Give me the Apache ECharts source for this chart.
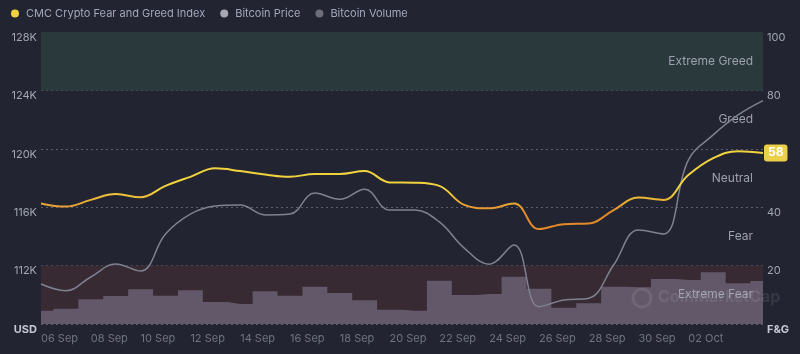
<!DOCTYPE html>
<html lang="en">

<head>
    <meta charset="UTF-8">
    <title>CMC Fear and Greed</title>
    <script src="https://cdn.jsdelivr.net/npm/echarts/dist/echarts.min.js"></script>
    <style>
        html, body {
            margin: 0;
            height: 100%;
            background: #222531;
        }

        #chart {
            width: 800px;
            height: 354px;
        }
    </style>
</head>

<body>
    <div id="chart"></div>
    <script>
        // daily points, 06 Sep -> 05 Oct
        var days = ['06 Sep', '07 Sep', '08 Sep', '09 Sep', '10 Sep', '11 Sep', '12 Sep', '13 Sep', '14 Sep', '15 Sep',
            '16 Sep', '17 Sep', '18 Sep', '19 Sep', '20 Sep', '21 Sep', '22 Sep', '23 Sep', '24 Sep', '25 Sep',
            '26 Sep', '27 Sep', '28 Sep', '29 Sep', '30 Sep', '01 Oct', '02 Oct', '03 Oct', '04 Oct', '05 Oct'];
        var fearGreed = [41.3, 40.2, 42.5, 44.5, 43.4, 47.3, 50.4, 53.3, 52.4, 51.2,
            50.4, 51.4, 51.4, 52.4, 48.5, 48.4, 47.3, 40.8, 39.6, 41.3,
            32.5, 34.2, 34.4, 39.0, 43.3, 42.5, 51.0, 56.8, 59.2, 58.6];
        var btcPrice = [110740, 110280, 111220, 112110, 111630, 114160, 115530, 116080, 116150, 115470,
            115530, 116970, 116540, 117230, 115800, 115800, 114990, 113200, 112100, 113410,
            109190, 109640, 109760, 112040, 114440, 114160, 119230, 120950, 122320, 123300];
        // volume in billions USD
        var btcVolume = [18.2, 21.0, 33.8, 38.4, 47.5, 38.8, 46.2, 30.1, 27.4, 44.8,
            38.8, 51.1, 42.5, 32.5, 19.6, 18.2, 59.3, 39.7, 41.1, 64.8,
            48.4, 22.3, 28.4, 51.1, 50.3, 61.6, 60.3, 70.8, 55.8, 58.9];
        var bands = [
            { name: 'Extreme Greed', from: 80, to: 100, color: '#2a393c' },
            { name: 'Greed', from: 60, to: 80, color: 'transparent' },
            { name: 'Neutral', from: 40, to: 60, color: 'transparent' },
            { name: 'Fear', from: 20, to: 40, color: 'transparent' },
            { name: 'Extreme Fear', from: 0, to: 20, color: '#382a33' }
        ];

        var font = 'Inter, "Noto Sans", sans-serif';
        var chart = echarts.init(document.getElementById('chart'));

        var option = {
            backgroundColor: '#222531',
            textStyle: { fontFamily: font },
            animation: false,
            legend: {
                left: 6,
                top: 3,
                icon: 'circle',
                itemWidth: 8,
                itemHeight: 8,
                itemGap: 15,
                textStyle: { color: '#a1a7bb', fontSize: 11, fontFamily: font, padding: [0, 0, 0, 2] },
                data: [
                    { name: 'CMC Crypto Fear and Greed Index', itemStyle: { color: '#f0d23f' } },
                    { name: 'Bitcoin Price', itemStyle: { color: '#a6a8b6' } },
                    { name: 'Bitcoin Volume', itemStyle: { color: '#6b6d7a' } }
                ]
            },
            grid: { left: 41, right: 37, top: 32, bottom: 30 },
            visualMap: {
                show: false,
                type: 'continuous',
                seriesIndex: 3,
                min: 38,
                max: 46,
                inRange: { color: ['#e3892a', '#f0d23f'] }
            },
            xAxis: {
                type: 'category',
                data: days,
                boundaryGap: false,
                axisLine: { show: false },
                axisTick: { show: false },
                axisLabel: {
                    color: '#6f7382',
                    fontSize: 11,
                    align: 'left',
                    margin: 9,
                    interval: function (i) { return i % 2 === 0 && i < 28; }
                }
            },
            yAxis: [{
                type: 'value',
                min: 108000,
                max: 128000,
                interval: 4000,
                axisLabel: {
                    color: '#a1a5b3',
                    fontSize: 11,
                    margin: 4,
                    verticalAlign: 'top',
                    formatter: function (v) { return v === 108000 ? '{b|USD}' : (v / 1000) + 'K'; },
                    rich: { b: { color: '#c5c8d3', fontWeight: 'bold', fontSize: 11 } }
                },
                splitLine: { lineStyle: { color: '#5a5e6c', type: [2, 3] } }
            }, {
                type: 'value',
                min: 0,
                max: 100,
                interval: 20,
                position: 'right',
                splitLine: { show: false },
                axisLabel: {
                    color: '#a1a5b3',
                    fontSize: 11,
                    margin: 4,
                    verticalAlign: 'top',
                    formatter: function (v) { return v === 0 ? '{b|F&G}' : v; },
                    rich: { b: { color: '#c5c8d3', fontWeight: 'bold', fontSize: 11 } }
                }
            }, {
                type: 'value',
                min: 0,
                max: 400,
                show: false,
                splitLine: { show: false }
            }],
            graphic: [{
                type: 'circle',
                shape: { cx: 642, cy: 298, r: 9 },
                style: { fill: 'none', stroke: 'rgba(255,255,255,0.09)', lineWidth: 3 },
                z: 50
            }, {
                type: 'text',
                left: 658,
                top: 289,
                style: { text: 'CoinMarketCap', fill: 'rgba(255,255,255,0.09)', font: 'bold 16px Inter' },
                z: 50
            }],
            series: [{
                name: 'bands',
                type: 'line',
                yAxisIndex: 1,
                data: [],
                z: 0,
                markArea: {
                    silent: true,
                    data: bands.map(function (b) {
                        return [{
                            yAxis: b.from,
                            itemStyle: { color: b.color },
                            label: {
                                show: true,
                                position: 'insideRight',
                                formatter: b.name,
                                color: '#9da1ae',
                                fontSize: 12,
                                fontFamily: font,
                                distance: 10
                            }
                        }, { yAxis: b.to }];
                    })
                }
            }, {
                // volume drawn as stepped area so edge days are cut at half a day
                name: 'Bitcoin Volume',
                type: 'line',
                step: 'middle',
                yAxisIndex: 2,
                data: btcVolume,
                showSymbol: false,
                lineStyle: { width: 0 },
                itemStyle: { color: '#625869' },
                areaStyle: { color: '#625869', opacity: 1 },
                z: 1
            }, {
                name: 'Bitcoin Price',
                type: 'line',
                yAxisIndex: 0,
                data: btcPrice,
                smooth: 0.4,
                showSymbol: false,
                lineStyle: { color: '#7e8191', width: 1.5 },
                itemStyle: { color: '#7e8191' },
                z: 3
            }, {
                name: 'CMC Crypto Fear and Greed Index',
                type: 'line',
                yAxisIndex: 1,
                data: fearGreed,
                smooth: 0.4,
                showSymbol: false,
                lineStyle: { width: 2 },
                z: 4,
                endLabel: {
                    show: true,
                    distance: 1,
                    formatter: function (p) { return Math.floor(p.value); },
                    color: '#fff',
                    fontWeight: 'bold',
                    fontSize: 12,
                    backgroundColor: '#ecd04a',
                    borderRadius: 3,
                    padding: [3, 4, 2, 4]
                }
            }]
        };

        chart.setOption(option);
    </script>
</body>

</html>
